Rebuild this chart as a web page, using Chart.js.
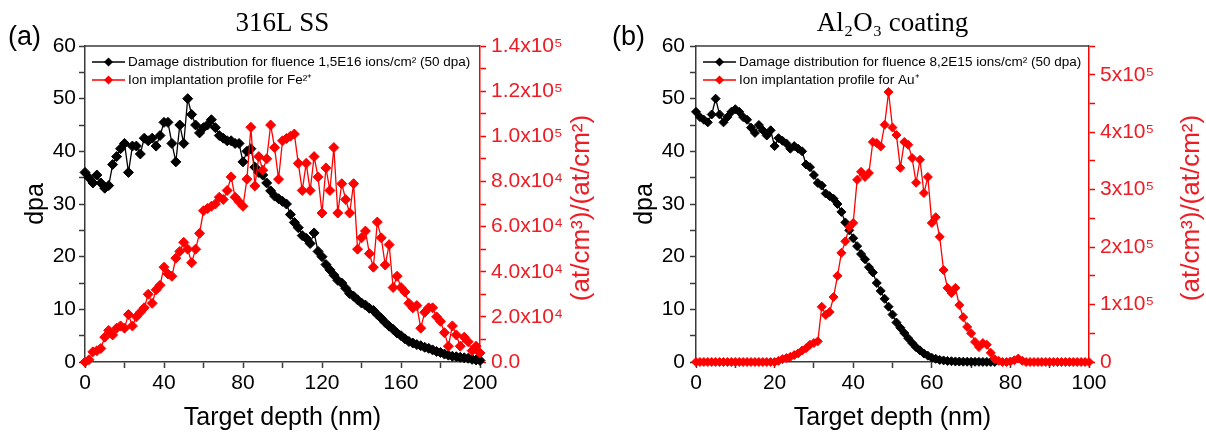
<!DOCTYPE html>
<html>
<head>
<meta charset="utf-8">
<script src="https://cdn.jsdelivr.net/npm/chart.js@4.4.0/dist/chart.umd.min.js"></script>
<style>
  body { margin: 0; background: #fff; }
  #wrapA { position: absolute; left: 0; top: 0; width: 600px; height: 446px; }
  #wrapB { position: absolute; left: 600px; top: 0; width: 606px; height: 446px; }
</style>
</head>
<body>
<div id="wrapA"><canvas id="chartA" width="600" height="446"></canvas></div>
<div id="wrapB"><canvas id="chartB" width="606" height="446"></canvas></div>
<script>
// ---- panel (a): 316L SS ----
const depthA = [0,2,4,6,8,10,12,14,16,18,20,22,24,26,28,30,32,34,36,38,40,42,44,46,48,50,52,54,56,58,
  60,62,64,66,68,70,72,74,76,78,80,82,84,86,88,90,92,94,96,98,100,102,104,106,108,110,112,114,116,118,
  120,122,124,126,128,130,132,134,136,138,140,142,144,146,148,150,152,154,156,158,160,162,164,166,168,170,
  172,174,176,178,180,182,184,186,188,190,192,194,196,198,200];
// dpa
const damageA = [36,35,34,35.5,34,33,33.5,37.5,39,40.5,
  41.5,36,41,41,39.5,42.5,42,42.5,41,43,
  45.5,45.5,41.5,38,45,41.5,50,47,45,43.5,
  44.5,45,46,44.5,43,42.5,42,42,41.5,41.5,
  38,40,40.5,37,36,35.5,34,32.5,31.5,31,
  30.5,30,28,26.5,25.5,24,23.5,22.5,24.5,21,
  20,18.5,17.5,16.5,15.5,15,14,13,12.5,11.8,
  11.2,10.8,10.2,9.8,9,8.3,7.5,6.8,6.2,5.5,
  5,4.4,3.9,3.6,3.3,3.1,2.8,2.6,2.3,2,
  1.8,1.5,1.3,1.1,1,0.9,0.8,0.7,0.5,0.4,
  0.3];
// implanted Fe, in units of 1e4 (at/cm3)/(at/cm2)
const implantA = [0,0.1,0.45,0.5,0.6,1.1,1.4,1.2,1.5,1.6,
  1.5,2.1,1.6,2.0,2.2,2.4,3.0,2.6,3.2,3.4,
  4.2,3.9,3.8,4.6,4.9,5.3,5.0,4.4,5.0,5.7,
  6.7,6.8,6.9,7.0,7.3,7.2,7.6,8.2,7.3,7.1,
  6.9,8.1,10.4,7.8,9.1,8.5,9.0,10.5,9.5,8.1,
  9.8,9.9,10.0,10.1,8.8,7.6,8.8,7.6,9.1,8.2,
  6.6,8.6,7.6,9.5,6.6,7.9,7.2,6.6,7.9,5.0,
  5.5,5.8,4.8,4.2,6.2,5.5,4.3,5.2,3.3,3.8,
  3.3,3.1,2.6,2.4,2.5,1.5,2.2,2.4,2.4,2.0,
  1.8,1.3,0.7,1.6,1.2,0.7,1.1,0.9,0.5,0.7,
  0.4];

// ---- panel (b): Al2O3 coating ----
const depthB = [0,1,2,3,4,5,6,7,8,9,10,11,12,13,14,15,16,17,18,19,20,21,22,23,24,25,26,27,28,29,
  30,31,32,33,34,35,36,37,38,39,40,41,42,43,44,45,46,47,48,49,50,51,52,53,54,55,56,57,58,59,
  60,61,62,63,64,65,66,67,68,69,70,71,72,73,74,75,76,77,78,79,80,81,82,83,84,85,86,87,88,89,
  90,91,92,93,94,95,96,97,98,99,100];
// dpa, depth 0..76
const damageB = [47.5,46.5,46,45.5,47,50,47,45.5,46.5,47.5,
  48,47.5,46.5,46,44.5,43.5,45,44,43,44,
  41,42.5,42,41.5,40.5,41,40.5,40,37.5,37,
  35.5,34,33.5,32,31.5,31,30,28.5,26.5,25,
  23.5,22,20.5,19.5,18,17,15,13.5,12,10.5,
  9,7.5,6.5,5.5,4.5,3.6,2.8,2.2,1.6,1.2,
  0.8,0.6,0.4,0.3,0.2,0.15,0.1,0.08,0.06,0.05,
  0.04,0.03,0.03,0.02,0.02,0.01,0.01];
// implanted Au, in units of 1e5 (at/cm3)/(at/cm2)
const implantB = [0,0,0,0,0,0,0,0,0,0,
  0,0,0,0,0,0,0,0,0,0,
  0,0.02,0.05,0.07,0.09,0.12,0.15,0.2,0.24,0.3,
  0.33,0.36,0.96,0.82,0.87,1.13,1.5,1.9,2.1,2.35,
  2.42,3.17,3.31,3.22,3.29,3.83,3.81,3.75,4.13,4.7,
  4.08,3.95,3.38,3.83,3.78,3.55,3.12,3.52,2.94,3.22,
  2.42,2.52,2.18,1.6,1.29,1.2,1.29,0.99,0.78,0.61,
  0.5,0.35,0.26,0.33,0.3,0.16,0.05,0.02,0,0,
  0.01,0.03,0.06,0.02,0,0,0,0,0,0,
  0,0,0,0,0,0,0,0,0,0,
  0];

const RED = '#ff0000';
const RED_TXT = '#ee1c24';
const AXIS = '#3a3a3a';
const SANS = '"Liberation Sans", Arial, sans-serif';
const NARROW = '"Liberation Sans Narrow", "Arial Narrow", "Liberation Sans", sans-serif';
const SERIF = '"Liberation Serif", "Times New Roman", "DejaVu Serif", serif';

const SUP = {'0':'⁰','1':'¹','2':'²','3':'³','4':'⁴','5':'⁵','6':'⁶','7':'⁷','8':'⁸','9':'⁹'};
function sup(n) { return String(n).split('').map(c => SUP[c]).join(''); }
function sciLabel(v, digits) {
  if (v === 0) return digits ? '0.0' : '0';
  const e = Math.floor(Math.log10(v) + 1e-9);
  return (v / Math.pow(10, e)).toFixed(digits) + 'x10' + sup(e);
}

const decor = {
  id: 'decor',
  afterDraw(chart, args, o) {
    const { ctx, chartArea: a } = chart;
    ctx.save();
    // top frame
    ctx.strokeStyle = AXIS; ctx.lineWidth = 1.5;
    ctx.beginPath(); ctx.moveTo(a.left, a.top); ctx.lineTo(a.right, a.top); ctx.stroke();
    // panel letter + title
    ctx.fillStyle = '#000';
    ctx.textBaseline = 'alphabetic';
    ctx.textAlign = 'left';
    ctx.font = '27px ' + SANS;
    ctx.fillText(o.letter, o.letterX, 45);
    ctx.textAlign = 'center';
    ctx.font = '27px ' + SERIF;
    ctx.fillText(o.title, (a.left + a.right) / 2, 31);
    // legend inside plot
    chart.data.datasets.forEach((ds, i) => {
      const y = a.top + 16 + i * 18;
      const x0 = a.left + 7, x1 = a.left + 40, xm = (x0 + x1) / 2;
      ctx.strokeStyle = ds.borderColor; ctx.lineWidth = 1.5;
      ctx.beginPath(); ctx.moveTo(x0, y); ctx.lineTo(x1, y); ctx.stroke();
      ctx.fillStyle = ds.borderColor;
      ctx.beginPath();
      ctx.moveTo(xm, y - 4.5); ctx.lineTo(xm + 4.5, y); ctx.lineTo(xm, y + 4.5); ctx.lineTo(xm - 4.5, y);
      ctx.closePath(); ctx.fill();
      ctx.fillStyle = '#000';
      ctx.textAlign = 'left'; ctx.textBaseline = 'middle';
      ctx.font = '13.5px ' + NARROW;
      ctx.fillText(ds.label, x1 + 3, y);
    });
    // right axis title, reading upward
    ctx.translate(o.rightTitleX, (a.top + a.bottom) / 2 + 4);
    ctx.rotate(-Math.PI / 2);
    ctx.fillStyle = RED_TXT;
    ctx.textAlign = 'center'; ctx.textBaseline = 'middle';
    ctx.font = '26px ' + SANS;
    ctx.fillText('(at/cm³)/(at/cm²)', 0, 0);
    ctx.restore();
  }
};

function makePanel(id, cfg) {
  return new Chart(document.getElementById(id), {
    type: 'line',
    data: {
      datasets: [{
        label: cfg.damageLabel,
        data: cfg.damageX.map((x, i) => ({ x: x, y: cfg.damage[i] })),
        yAxisID: 'y',
        borderColor: '#000', backgroundColor: '#000',
        borderWidth: 1.3, pointStyle: 'rectRot', pointRadius: cfg.r, pointBorderWidth: 1,
        order: 2, clip: false
      }, {
        label: cfg.implantLabel,
        data: cfg.implantX.map((x, i) => ({ x: x, y: cfg.implant[i] * cfg.unit })),
        yAxisID: 'y2',
        borderColor: RED, backgroundColor: RED,
        borderWidth: 1.3, pointStyle: 'rectRot', pointRadius: cfg.r, pointBorderWidth: 1,
        order: 1, clip: false
      }]
    },
    options: {
      responsive: false,
      animation: false,
      layout: { padding: { top: 46, left: 0, right: 0, bottom: 0 } },
      plugins: {
        legend: { display: false },
        tooltip: { enabled: false },
        decor: cfg.decor
      },
      scales: {
        x: {
          type: 'linear', min: 0, max: cfg.xMax,
          afterFit(s) { s.height = 84; },
          ticks: { stepSize: cfg.xMinor, autoSkip: false, maxRotation: 0, padding: 3, color: '#000',
                   font: { size: 21, family: SANS },
                   callback: v => (v % cfg.xMajor === 0 ? v : '') },
          grid: { drawOnChartArea: false, tickLength: 6, tickColor: AXIS, tickWidth: 1.5 },
          border: { color: AXIS, width: 1.5 },
          title: { display: true, text: 'Target depth (nm)', color: '#000',
                   font: { size: 25, family: SANS }, padding: { top: 0, bottom: 13 } }
        },
        y: {
          position: 'left', min: 0, max: 60,
          afterFit(s) { s.width = cfg.leftW; },
          ticks: { stepSize: 5, autoSkip: false, padding: cfg.yPad, color: '#000',
                   font: { size: 21, family: SANS },
                   callback: v => (v % 10 === 0 ? v : '') },
          grid: { drawOnChartArea: false, tickLength: 6, tickColor: AXIS, tickWidth: 1.5 },
          border: { color: AXIS, width: 1.5 },
          title: { display: true, text: 'dpa', color: '#000',
                   font: { size: 25, family: SANS }, padding: { top: cfg.dpaPad, bottom: 0 } }
        },
        y2: {
          position: 'right', min: 0, max: cfg.y2Max,
          afterFit(s) { s.width = cfg.rightW; },
          ticks: { stepSize: cfg.y2Minor, autoSkip: false, padding: 5, color: RED_TXT,
                   font: { size: 21, family: SANS },
                   callback: v => (Math.round(v) % cfg.y2Major === 0 ? sciLabel(v, cfg.y2Digits) : '') },
          grid: { drawOnChartArea: false, tickLength: 6, tickColor: RED, tickWidth: 1.5 },
          border: { color: RED, width: 1.5 }
        }
      }
    },
    plugins: [decor]
  });
}

makePanel('chartA', {
  damageLabel: 'Damage distribution for fluence 1,5E16 ions/cm² (50 dpa)',
  implantLabel: 'Ion implantation profile for Fe²⁺',
  damageX: depthA, damage: damageA,
  implantX: depthA, implant: implantA, unit: 1e4,
  r: 5,
  xMax: 200, xMinor: 20, xMajor: 40,
  y2Max: 140000, y2Minor: 10000, y2Major: 20000, y2Digits: 1,
  leftW: 85, rightW: 120, yPad: 3, dpaPad: 21,
  decor: { letter: '(a)', letterX: 8, title: '316L SS', rightTitleX: 582 }
});

makePanel('chartB', {
  damageLabel: 'Damage distribution for fluence 8,2E15 ions/cm² (50 dpa)',
  implantLabel: 'Ion implantation profile for Au⁺',
  damageX: depthB.slice(0, damageB.length), damage: damageB,
  implantX: depthB, implant: implantB, unit: 1e5,
  r: 4.5,
  xMax: 100, xMinor: 10, xMajor: 20,
  y2Max: 550000, y2Minor: 50000, y2Major: 100000, y2Digits: 0,
  leftW: 96, rightW: 117, yPad: 5, dpaPad: 30,
  decor: { letter: '(b)', letterX: 12, title: 'Al₂O₃ coating', rightTitleX: 592 }
});
</script>
</body>
</html>
